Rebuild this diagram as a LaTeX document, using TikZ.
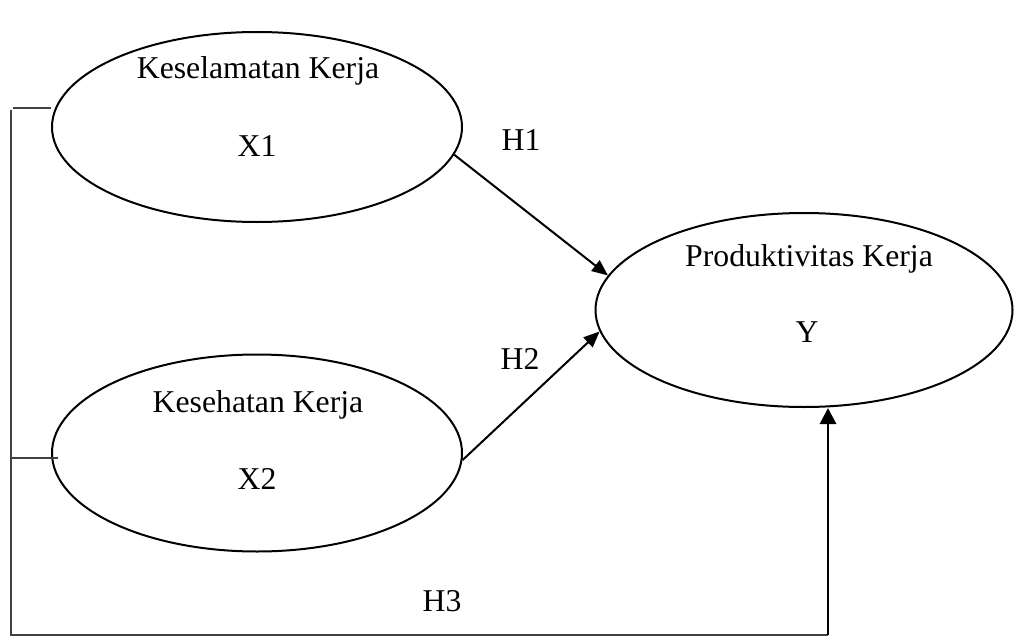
\documentclass[tikz,border=0pt]{standalone}
\usepackage{fontspec}
\setmainfont{Liberation Serif}
\usetikzlibrary{arrows.meta,positioning,shapes}

\begin{document}
\begin{tikzpicture}[
  x=0.75pt, y=-0.75pt,
  font=\fontsize{23.8pt}{28pt}\selectfont,
  var/.style={ellipse, draw, line width=1.5pt, inner sep=0pt},
  txt/.style={anchor=base, inner sep=0pt},
  arrow/.style={-{Triangle[length=12pt, width=10pt]}, line width=1.5pt},
  link/.style={draw=black!75, line width=0.8pt},
]
\useasboundingbox (0,0) rectangle (1017,642);
\node[var, minimum width=307.5pt, minimum height=142.5pt] (x1) at (257,127) {};
\node[var, minimum width=307.5pt, minimum height=147.75pt] (x2) at (257,453) {};
\node[var, minimum width=312.75pt, minimum height=145.5pt] (y) at (804,310) {};
\node[txt] (x1name) at (258,79) {Keselamatan Kerja};
\node[txt] (x1code) at (257,156) {X1};
\node[txt] (x2name) at (258,412) {Kesehatan Kerja};
\node[txt] (x2code) at (257,489) {X2};
\node[txt] (yname) at (809,266) {Produktivitas Kerja};
\node[txt] (ycode) at (807,342) {Y};
\node (h1) at (521,140) {H1};
\node (h2) at (520,359) {H2};
\node (h3) at (442,601) {H3};
\draw[arrow] (x1.-8) -- (y.170);
\draw[arrow] (x2.-2) -- (y.186);
\coordinate (top) at (11,110);
\coordinate (corner) at (11,635);
\coordinate (foot) at (828,635);
\coordinate (tick1) at (13,108);
\coordinate (tick2) at (11,458);
\draw[link] (top) -- (corner) -- (foot);
\draw[link] (tick1) -- (tick1 -| x1.west);
\draw[link] (tick2) -- ([xshift=5pt]tick2 -| x2.west);
\draw[-{Triangle[length=12pt, width=12pt]}, line width=2.2pt] (foot) -- (foot |- y.south);
\end{tikzpicture}
\end{document}
